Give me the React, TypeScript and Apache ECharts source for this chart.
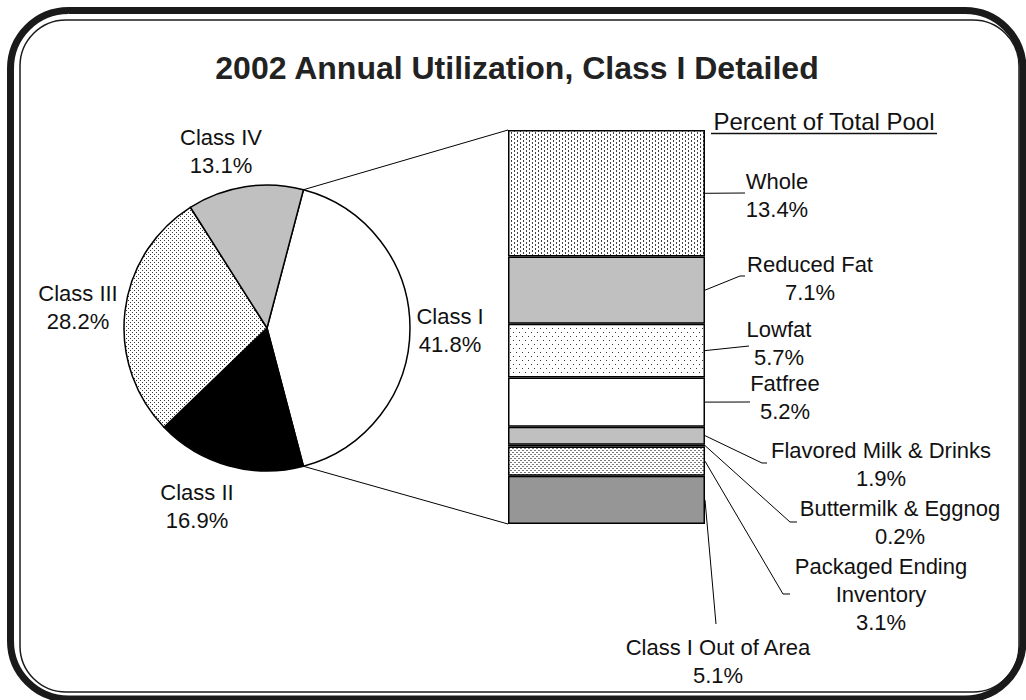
import React, { useEffect, useRef } from "react";
import * as echarts from "echarts";

// ---------- data ----------
const titleText = "2002 Annual Utilization, Class I Detailed";
const barHeader = "Percent of Total Pool";

const pieCategories = ["Class I", "Class II", "Class III", "Class IV"];
const pieValues = [41.8, 16.9, 28.2, 13.1];

// top to bottom, as shown in the stacked column
const barCategories = [
  "Whole",
  "Reduced Fat",
  "Lowfat",
  "Fatfree",
  "Flavored Milk & Drinks",
  "Buttermilk & Eggnog",
  "Packaged Ending\nInventory",
  "Class I Out of Area",
];
const barValues = [13.4, 7.1, 5.7, 5.2, 1.9, 0.2, 3.1, 5.1];

// ---------- layout (positions only) ----------
const PIE_CENTER = [267, 328];
const PIE_RADIUS = 143;
const pieLabelPos = [
  [450, 330],
  [197, 506],
  [78, 307],
  [221, 151],
];
const GRID = { left: 508, top: 130, width: 197, height: 394 };
// [elbowX, elbowY, endX, labelX, labelY]
const barLabelLayout = [
  [745, 193, 745, 777, 195],
  [740, 276, 745, 810, 278],
  [749, 346, 749, 779, 343],
  [750, 402, 750, 785, 397],
  [762, 463, 767, 881, 464],
  [790, 522, 797, 900, 522],
  [783, 594, 790, 881, 594],
  [716, 624, 716, 718, 661],
];

const FONT = '"Liberation Sans", Arial, sans-serif';
const INK = "#111";

function makePattern(w: number, h: number, fg: string, pts: number[][], bg = "#ffffff") {
  const c = document.createElement("canvas");
  c.width = w;
  c.height = h;
  const ctx = c.getContext("2d")!;
  ctx.fillStyle = bg;
  ctx.fillRect(0, 0, w, h);
  ctx.fillStyle = fg;
  pts.forEach(([x, y]) => ctx.fillRect(x, y, 1, 1));
  return { image: c.toDataURL(), repeat: "repeat", imageWidth: w, imageHeight: h } as any;
}

export default function App() {
  const ref = useRef<HTMLDivElement>(null);

  useEffect(() => {
    if (!ref.current) return;
    const chart = echarts.init(ref.current, null, { renderer: "svg" });

    const dotsIII = makePattern(4, 4, "#3a3a3a", [[0, 0], [2, 2]]);
    const dotsLow = makePattern(6, 8, "#3a3a3a", [[0, 0], [3, 4]]);
    const dashWhole = makePattern(6, 4, "#404040", [[1, 0], [1, 1], [4, 2], [4, 3]]);
    const dotsPack = makePattern(4, 4, "#7a7a7a", [[0, 0], [1, 0], [2, 2], [3, 2]]);

    const pieColors = ["#ffffff", "#000000", dotsIII, "#c0c0c0"];
    const barColors = [dashWhole, "#c0c0c0", dotsLow, "#ffffff", "#c0c0c0", "#000000", dotsPack, "#969696"];

    const total = barValues.reduce((a, b) => a + b, 0);
    const order = barValues.map((_, i) => i).reverse(); // bottom-up stacking

    const option: any = {
      animation: false,
      backgroundColor: "#ffffff",
      grid: { left: GRID.left, top: GRID.top, width: GRID.width, height: GRID.height, containLabel: false },
      xAxis: { type: "category", data: ["Class I"], show: false },
      yAxis: { type: "value", min: 0, max: total, show: false },
      series: [
        {
          type: "pie",
          center: PIE_CENTER,
          radius: PIE_RADIUS,
          startAngle: (pieValues[0] / pieValues.reduce((a, b) => a + b, 0)) * 180,
          clockwise: true,
          avoidLabelOverlap: false,
          silent: true,
          data: pieCategories.map((n, i) => ({
            name: n,
            value: pieValues[i],
            itemStyle: { color: pieColors[i] },
          })),
          itemStyle: { borderColor: "#000", borderWidth: 1.5 },
          label: {
            show: true,
            formatter: (p: any) => `${p.name}\n${p.value.toFixed(1)}%`,
            fontFamily: FONT,
            fontSize: 22,
            lineHeight: 28,
            color: INK,
            align: "center",
          },
          labelLine: { show: false },
          labelLayout: (p: any) => ({
            x: pieLabelPos[p.dataIndex][0],
            y: pieLabelPos[p.dataIndex][1],
            align: "center",
            verticalAlign: "middle",
          }),
        },
        ...order.map((i) => ({
          type: "bar",
          name: barCategories[i],
          stack: "classI",
          barWidth: "100%",
          silent: true,
          data: [barValues[i]],
          itemStyle: { color: barColors[i], borderColor: "#000", borderWidth: 1.5 },
        })),
      ],
    };
    chart.setOption(option);

    const yPix = (v: number) => (chart.convertToPixel({ gridIndex: 0 }, [0, v]) as number[])[1];
    const barLeft = GRID.left;
    const barRight = GRID.left + GRID.width;

    const graphics: any[] = [];
    // frame
    graphics.push({
      type: "rect",
      shape: { x: 10.5, y: 10.5, width: 1012.5, height: 688.5, r: 58 },
      style: { fill: "none", stroke: "#1a1a1a", lineWidth: 7 },
      silent: true,
    });
    graphics.push({
      type: "rect",
      shape: { x: 20, y: 20, width: 999, height: 672, r: 46 },
      style: { fill: "none", stroke: "#1a1a1a", lineWidth: 1.5 },
      silent: true,
    });
    // title
    graphics.push({
      type: "text",
      style: {
        text: titleText,
        x: 517,
        y: 68,
        textAlign: "center",
        textVerticalAlign: "middle",
        align: "center",
        verticalAlign: "middle",
        font: `bold 32px ${FONT}`,
        fill: "#222",
      },
    });
    // header
    graphics.push({
      type: "text",
      style: {
        text: barHeader,
        x: 824,
        y: 121,
        textAlign: "center",
        textVerticalAlign: "middle",
        align: "center",
        verticalAlign: "middle",
        font: `24px ${FONT}`,
        fill: INK,
      },
    });
    graphics.push({
      type: "line",
      shape: { x1: 711, y1: 133.5, x2: 937, y2: 133.5 },
      style: { stroke: INK, lineWidth: 1.3 },
    });

    // pie-to-bar connectors
    const pieTotal = pieValues.reduce((a, b) => a + b, 0);
    const half = (pieValues[0] / pieTotal) * Math.PI;
    const px = PIE_CENTER[0] + PIE_RADIUS * Math.cos(half);
    const pyTop = PIE_CENTER[1] - PIE_RADIUS * Math.sin(half);
    const pyBot = PIE_CENTER[1] + PIE_RADIUS * Math.sin(half);
    graphics.push({
      type: "line",
      shape: { x1: px, y1: pyTop, x2: barLeft, y2: yPix(total) },
      style: { stroke: "#000", lineWidth: 1 },
    });
    graphics.push({
      type: "line",
      shape: { x1: px, y1: pyBot, x2: barLeft, y2: yPix(0) },
      style: { stroke: "#000", lineWidth: 1 },
    });

    // bar labels + leader lines
    barValues.forEach((v, i) => {
      let below = 0;
      for (let k = i + 1; k < barValues.length; k++) below += barValues[k];
      const ay = yPix(below + v / 2);
      const [ex, ey, endX, lx, ly] = barLabelLayout[i];
      graphics.push({
        type: "polyline",
        shape: { points: [[barRight, ay], [ex, ey], [endX, ey]] },
        style: { stroke: "#000", lineWidth: 1, fill: "none" },
      });
      graphics.push({
        type: "text",
        style: {
          text: `${barCategories[i]}\n${v.toFixed(1)}%`,
          x: lx,
          y: ly,
          textAlign: "center",
          textVerticalAlign: "middle",
          align: "center",
          verticalAlign: "middle",
          font: `22px ${FONT}`,
          lineHeight: 28,
          fill: INK,
        },
      });
    });

    chart.setOption({ graphic: { elements: graphics } });

    return () => chart.dispose();
  }, []);

  return (
    <div
      ref={ref}
      style={{ position: "fixed", left: 0, top: 0, width: 1026, height: 700, background: "#fff" }}
    />
  );
}
